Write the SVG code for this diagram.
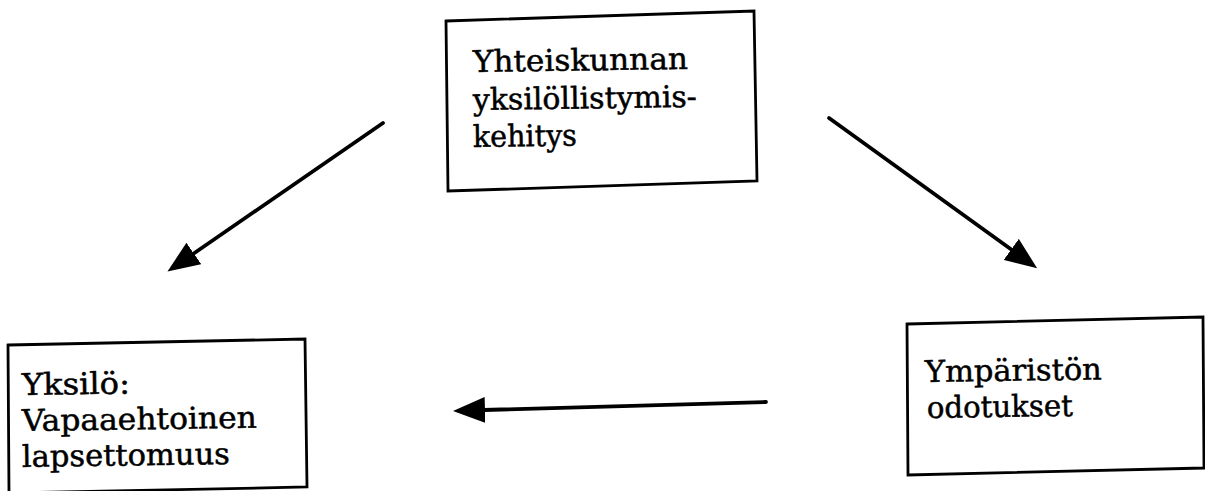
<svg xmlns="http://www.w3.org/2000/svg" width="1205" height="491" viewBox="0 0 1205 491">
  <style>
    .box { fill: #ffffff; stroke: #000000; stroke-width: 2.8; stroke-linejoin: miter; }
    .lbl { font-family: "DejaVu Serif", "Liberation Serif", serif; font-size: 30px; fill: #000000; stroke: #000000; stroke-width: 0.5; }
    .conn { fill: none; stroke: #000000; stroke-width: 3.8; stroke-linecap: round; }
  </style>
  <defs>
    <marker id="head" markerUnits="userSpaceOnUse" viewBox="0 0 32 26" markerWidth="32" markerHeight="26" refX="1" refY="13" orient="auto">
      <path d="M0,0 L32,13 L0,26 z" fill="#000000"/>
    </marker>
  </defs>
  <rect x="0" y="0" width="1205" height="491" fill="#ffffff"/>

  <g id="node-top">
    <polygon class="box" points="446,21 754,11 757,181 448,191"/>
    <text class="lbl" x="473" y="72" textLength="215" lengthAdjust="spacingAndGlyphs" transform="rotate(-0.8 473 72)">Yhteiskunnan</text>
    <text class="lbl" x="473" y="110" textLength="224" lengthAdjust="spacingAndGlyphs" transform="rotate(-0.8 473 110)">yksilöllistymis-</text>
    <text class="lbl" x="473" y="147" textLength="104" lengthAdjust="spacingAndGlyphs" transform="rotate(-0.8 473 147)">kehitys</text>
  </g>

  <g id="node-left">
    <polygon class="box" points="8,345 305,339 307,487 9,493"/>
    <text class="lbl" x="22" y="395" textLength="108" lengthAdjust="spacingAndGlyphs" transform="rotate(-0.8 22 395)">Yksilö:</text>
    <text class="lbl" x="22" y="431" textLength="235" lengthAdjust="spacingAndGlyphs" transform="rotate(-0.8 22 431)">Vapaaehtoinen</text>
    <text class="lbl" x="22" y="467" textLength="208" lengthAdjust="spacingAndGlyphs" transform="rotate(-0.8 22 467)">lapsettomuus</text>
  </g>

  <g id="node-right">
    <polygon class="box" points="907,324 1203,317 1204,468 908,475"/>
    <text class="lbl" x="925" y="382" textLength="177" lengthAdjust="spacingAndGlyphs" transform="rotate(-0.8 925 382)">Ympäristön</text>
    <text class="lbl" x="927" y="418" textLength="146" lengthAdjust="spacingAndGlyphs" transform="rotate(-0.8 927 418)">odotukset</text>
  </g>

  <g id="connectors">
    <path class="conn" d="M383,123 L193,254" marker-end="url(#head)"/>
    <path class="conn" d="M829,118 L1012,250" marker-end="url(#head)"/>
    <path class="conn" d="M766,402 L484,410" marker-end="url(#head)"/>
  </g>
</svg>
